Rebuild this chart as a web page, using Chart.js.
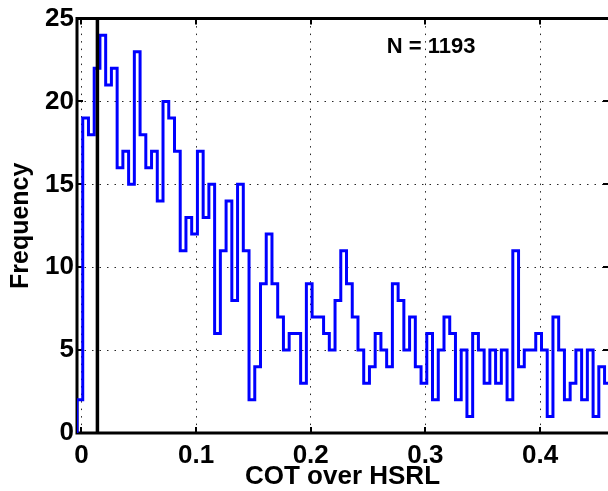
<!DOCTYPE html>
<html>
<head>
<meta charset="utf-8">
<script src="https://cdn.jsdelivr.net/npm/chart.js@4.4.0/dist/chart.umd.min.js"></script>
<style>
  html, body { margin: 0; padding: 0; background: #fff; overflow: hidden; }
  #wrap { width: 608px; height: 491px; }
</style>
</head>
<body>
<div id="wrap"><canvas id="hist" width="608" height="491"></canvas></div>
<script>
      /* ---------- DATA ---------- */
      // counts per bin (left to right)
      const counts = [
        2, 19, 18, 22, 24, 21, 22, 16, 17, 15, 23, 18, 16, 17, 14, 20, 19, 17, 11, 13, 12, 17, 13,
        15, 6, 11, 14, 8, 15, 11, 2, 4, 9, 12, 9, 7, 5, 6, 6, 3, 9, 7, 7, 6, 5,
        8, 11, 9, 7, 5, 3, 4, 6, 5, 4, 9, 8, 5, 7, 4,
        3, 6, 2, 5, 7, 6, 2, 5, 1, 6, 5, 3, 5, 3, 5,
        2, 11, 4, 5, 5, 6, 5, 1, 7, 5, 2, 3, 5, 2, 5, 1, 4, 3,
      ];
      const binStart = -0.0038;
      const binWidth = 0.005;
      const threshold = 0.014;
      const xTicks = [0, 0.1, 0.2, 0.3, 0.4];
      const yTicks = [0, 5, 10, 15, 20, 25];
      const xRange = [-0.0038, 0.4592];
      const yRange = [0, 25];
      const nText = "N = 1193";
      const nPos = { x: 0.305, y: 23.3 };

      /* ---------- STYLE ---------- */
      const blue = "#0000ff";
      const black = "#000000";
      const fontFamily = "'Liberation Sans', Arial, Helvetica, sans-serif";

      // outline of the histogram: up/down at every bin edge
      const outline = [{ x: binStart, y: 0 }];
      counts.forEach((c, i) => {
        outline.push({ x: binStart + i * binWidth, y: c });
        outline.push({ x: binStart + (i + 1) * binWidth, y: c });
      });

      /* ---------- AXES BOX + INWARD TICKS ---------- */
      const boxPlugin = {
        id: "box",
        beforeDatasetsDraw(chart) {
          const { ctx, chartArea: a, scales } = chart;
          const x = scales.x;
          const y = scales.y;
          ctx.save();
          ctx.strokeStyle = black;
          ctx.lineWidth = 3;
          ctx.beginPath();
          ctx.moveTo(a.right + 4, a.top);
          ctx.lineTo(a.left, a.top);
          ctx.lineTo(a.left, a.bottom);
          ctx.lineTo(a.right + 4, a.bottom);
          ctx.stroke();

          ctx.lineWidth = 2;
          ctx.beginPath();
          xTicks.forEach((v) => {
            const px = Math.round(x.getPixelForValue(v));
            ctx.moveTo(px, a.bottom);
            ctx.lineTo(px, a.bottom - 6);
            ctx.moveTo(px, a.top);
            ctx.lineTo(px, a.top + 6);
          });
          yTicks.forEach((v) => {
            const py = Math.round(y.getPixelForValue(v));
            ctx.moveTo(a.left, py);
            ctx.lineTo(a.left + 6, py);
            ctx.moveTo(a.right, py);
            ctx.lineTo(a.right - 5, py);
          });
          ctx.stroke();
          ctx.restore();
        },
        afterDatasetsDraw(chart) {
          const { ctx, scales } = chart;
          ctx.save();
          ctx.fillStyle = black;
          ctx.font = "bold 22px " + fontFamily;
          ctx.textAlign = "center";
          ctx.textBaseline = "middle";
          ctx.fillText(
            nText,
            scales.x.getPixelForValue(nPos.x),
            scales.y.getPixelForValue(nPos.y),
          );
          ctx.restore();
        },
      };

      const tickFont = { family: fontFamily, size: 26, weight: "bold" };

      new Chart(document.getElementById("hist"), {
        type: "line",
        data: {
          datasets: [
            {
              label: "threshold",
              data: [
                { x: threshold, y: yRange[0] },
                { x: threshold, y: yRange[1] },
              ],
              borderColor: black,
              borderWidth: 3.5,
              pointRadius: 0,
              order: 0,
            },
            {
              label: "COT over HSRL",
              data: outline,
              borderColor: blue,
              borderWidth: 3,
              borderJoinStyle: "miter",
              pointRadius: 0,
              tension: 0,
              fill: false,
              order: 1,
            },
          ],
        },
        options: {
          responsive: false,
          animation: false,
          events: [],
          layout: { padding: { top: 17, right: 0, bottom: 0, left: 0 } },
          plugins: {
            legend: { display: false },
            tooltip: { enabled: false },
          },
          scales: {
            x: {
              type: "linear",
              min: xRange[0],
              max: xRange[1],
              afterBuildTicks: (s) => {
                s.ticks = xTicks.map((v) => ({ value: v }));
              },
              afterFit: (s) => {
                s.height = 58;
              },
              ticks: {
                font: tickFont,
                color: black,
                padding: 7,
                maxRotation: 0,
                autoSkip: false,
                includeBounds: false,
              },
              grid: {
                color: "rgba(0,0,0,0.85)",
                lineWidth: 1,
                drawTicks: false,
              },
              border: { display: false, dash: [1.5, 6] },
              title: {
                display: true,
                text: "COT over HSRL",
                color: black,
                font: { family: fontFamily, size: 26, weight: "bold", lineHeight: 1 },
                padding: { top: 0, bottom: 1 },
              },
            },
            y: {
              min: yRange[0],
              max: yRange[1],
              afterBuildTicks: (s) => {
                s.ticks = yTicks.map((v) => ({ value: v }));
              },
              afterFit: (s) => {
                s.width = 77;
              },
              ticks: {
                font: tickFont,
                color: black,
                padding: 3,
              },
              grid: {
                color: "rgba(0,0,0,0.85)",
                lineWidth: 1,
                drawTicks: false,
              },
              border: { display: false, dash: [1.5, 6] },
              title: {
                display: true,
                text: "Frequency",
                color: black,
                font: { family: fontFamily, size: 25, weight: "bold", lineHeight: 1.2 },
                padding: { top: 6, bottom: 0 },
              },
            },
          },
        },
        plugins: [boxPlugin],
      });
</script>
</body>
</html>
